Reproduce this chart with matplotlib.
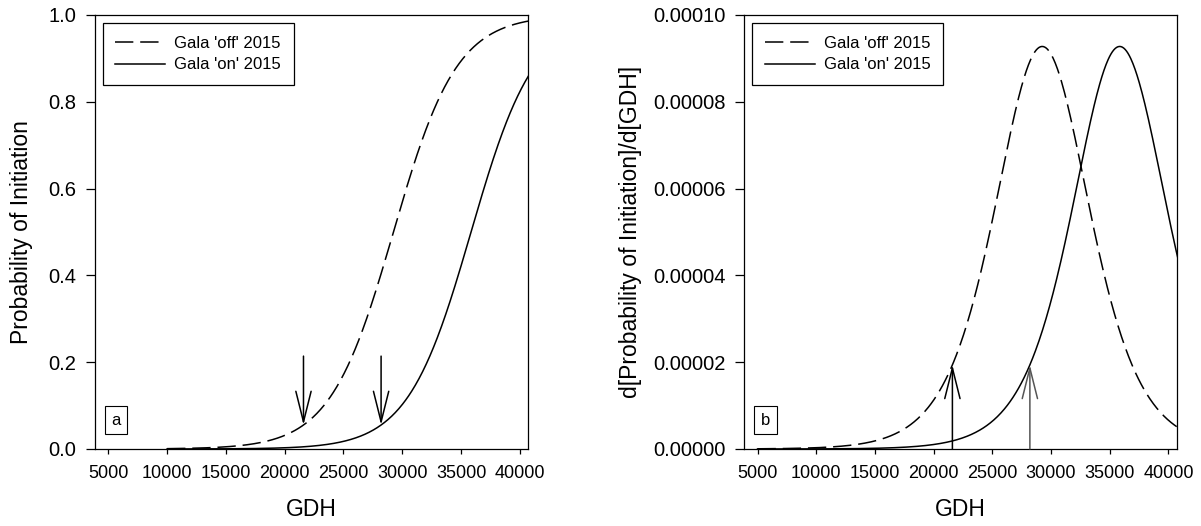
import matplotlib.pyplot as plt
import numpy as np

plt.rcParams['font.family'] = ['Liberation Sans', 'DejaVu Sans']

# Logistic fits of bud initiation vs growing degree hours (GDH)
series = ["Gala 'off' 2015", "Gala 'on' 2015"]
gdh50 = [29250, 35850]           # GDH at 50 % initiation
slope = [0.000371, 0.000371]     # logistic rate (per GDH)
styles = [(0, (12, 4.5)), '-']

# GDH where the onset arrows point
arrow_gdh = [21600, 28200]

# plotted GDH range for each panel
gdh_start = [10000, 5000]
gdh_end = 41000

xticks = [5000, 10000, 15000, 20000, 25000, 30000, 35000, 40000]
xlim = (3870, 40700)


def prob(x, x50, k):
    return 1.0 / (1.0 + np.exp(-k * (x - x50)))


def dprob(x, x50, k):
    p = prob(x, x50, k)
    return k * p * (1.0 - p)


fig = plt.figure(figsize=(12.01, 5.26), dpi=100)
ax_a = fig.add_axes([0.0791, 0.1464, 0.3606, 0.8251])
ax_b = fig.add_axes([0.6197, 0.1464, 0.3600, 0.8251])

for ax in (ax_a, ax_b):
    for sp in ax.spines.values():
        sp.set_linewidth(0.9)
    ax.set_xlim(*xlim)
    ax.set_xticks(xticks)
    ax.tick_params(axis='x', direction='out', length=3.8, width=0.9,
                   labelsize=13, pad=8)
    ax.tick_params(axis='y', direction='out', length=6.5, width=0.9,
                   labelsize=14.5, pad=7)
    ax.set_xlabel('GDH', fontsize=16.5, labelpad=11)

# panel a: probability of initiation
for name, x50, k, ls in zip(series, gdh50, slope, styles):
    x = np.linspace(gdh_start[0], gdh_end, 600)
    ax_a.plot(x, prob(x, x50, k), color='black', lw=1.1, ls=ls, label=name)

for xa, x50, k in zip(arrow_gdh, gdh50, slope):
    ax_a.annotate('', xy=(xa, prob(xa, x50, k)), xytext=(xa, 0.214),
                  fontsize=10,
                  arrowprops=dict(arrowstyle='->,head_length=2.2,head_width=0.55',
                                  color='black', lw=1.1, shrinkA=0, shrinkB=0))

ax_a.set_ylim(0, 1.0)
ax_a.set_yticks(np.arange(0, 1.01, 0.2))
ax_a.set_yticklabels([f'{v:.1f}' for v in np.arange(0, 1.01, 0.2)])
ax_a.set_ylabel('Probability of Initiation', fontsize=16.5, labelpad=11)

# panel b: rate of change of the probability
for name, x50, k, ls in zip(series, gdh50, slope, styles):
    x = np.linspace(gdh_start[1], gdh_end, 600)
    ax_b.plot(x, dprob(x, x50, k), color='black', lw=1.1, ls=ls, label=name)

for xa, x50, k, c in zip(arrow_gdh, gdh50, slope, ['black', '#555555']):
    ax_b.annotate('', xy=(xa, dprob(xa, x50, k)), xytext=(xa, 0),
                  fontsize=10,
                  arrowprops=dict(arrowstyle='->,head_length=2.2,head_width=0.55',
                                  color=c, lw=1.1, shrinkA=0, shrinkB=0))

yt_b = [0, 0.00002, 0.00004, 0.00006, 0.00008, 0.0001]
ax_b.set_ylim(0, 0.0001)
ax_b.set_yticks(yt_b)
ax_b.set_yticklabels([f'{v:.5f}' for v in yt_b])
ax_b.set_ylabel('d[Probability of Initiation]/d[GDH]', fontsize=16.5, labelpad=8)

for ax, tag in ((ax_a, 'a'), (ax_b, 'b')):
    leg = ax.legend(loc='upper left', bbox_to_anchor=(0.018, 0.981),
                    borderaxespad=0, fontsize=12, frameon=True, fancybox=False,
                    edgecolor='black', framealpha=1, handlelength=3.0,
                    handletextpad=0.55, labelspacing=0.4, borderpad=0.75)
    leg.get_frame().set_linewidth(0.9)
    ax.text(0.0485, 0.0668, tag, transform=ax.transAxes, fontsize=12,
            ha='center', va='center',
            bbox=dict(boxstyle='square,pad=0.4', fc='white', ec='black', lw=0.8))

plt.savefig('out.png', dpi=100)
